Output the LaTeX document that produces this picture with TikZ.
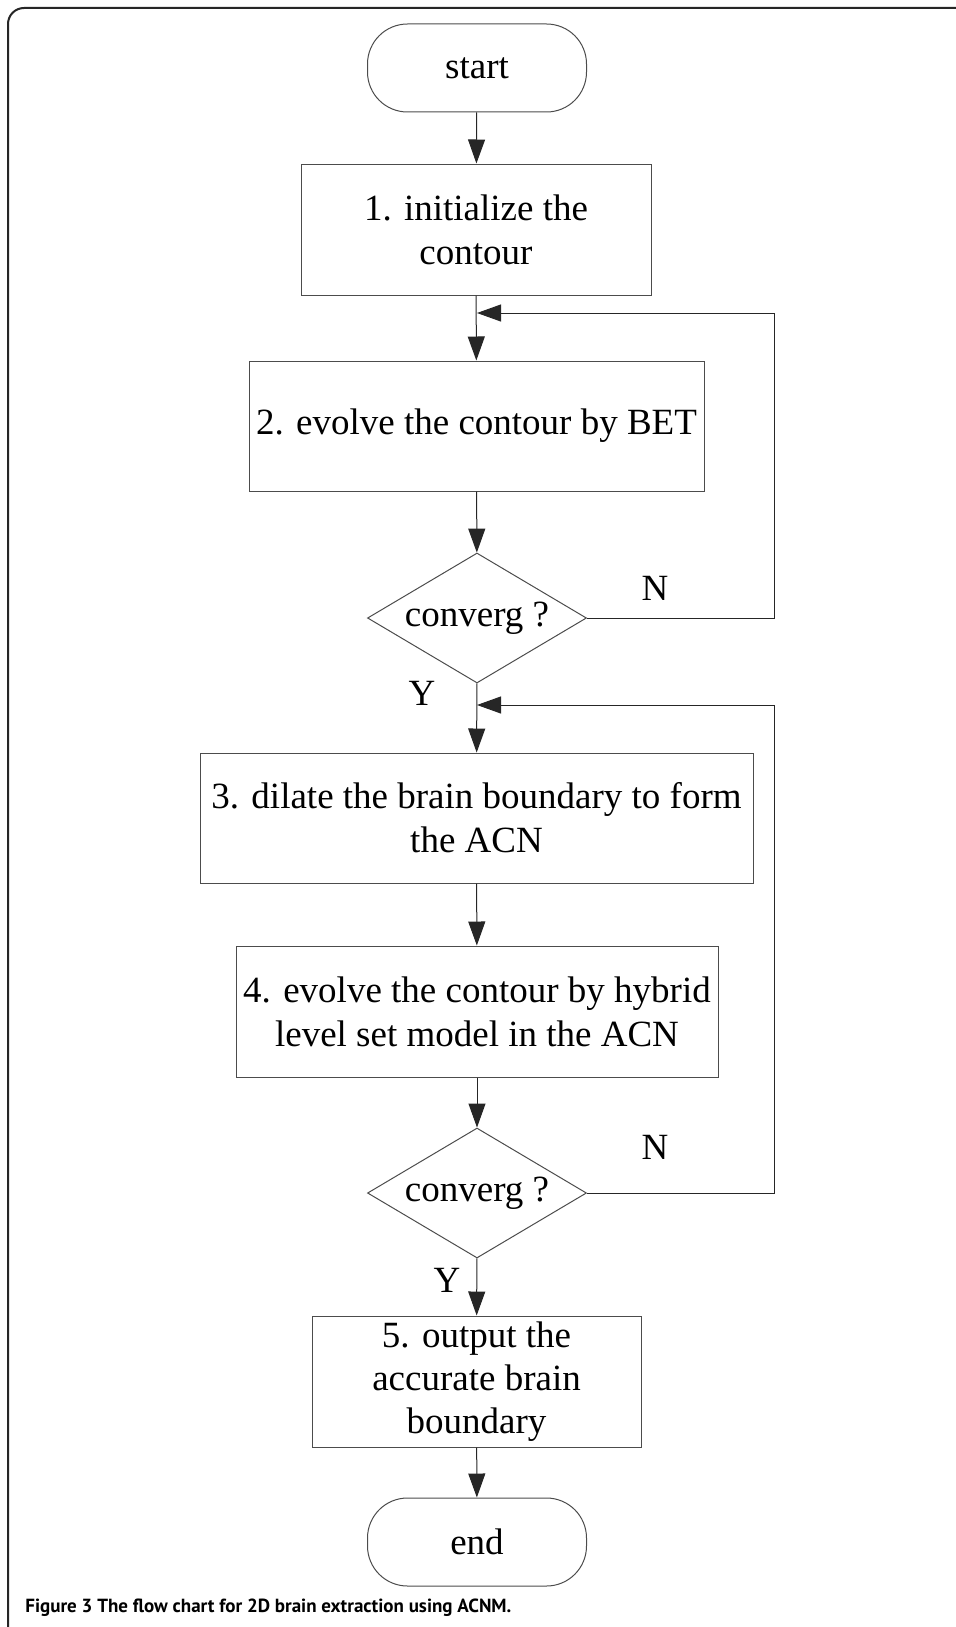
\documentclass[tikz,border=0pt]{standalone}
\usepackage{fontspec}
\setmainfont{Liberation Serif}
\newfontfamily\captionfont{PT Sans}
\usepackage{tikz}
\usetikzlibrary{arrows.meta}
\usetikzlibrary{shapes.geometric}

\begin{document}
\begin{tikzpicture}[x=0.5pt, y=-0.5pt,
  boxtext/.style={font=\fontsize{18.5}{22}\selectfont, align=center},
  stepbox/.style={boxtext, draw=black!70, line width=0.5pt, inner sep=0pt},
  terminal/.style={stepbox, rounded corners=20pt,
    minimum width=109.5pt, minimum height=44pt},
  decision/.style={diamond, boxtext, draw=black!70, line width=0.5pt,
    inner sep=0pt, aspect=1.68, minimum width=109.5pt, minimum height=65pt},
  flow/.style={-{Triangle[length=12pt, width=8.5pt]}, draw=black!85,
    line width=0.5pt},
  yesno/.style={font=\fontsize{18.5}{22}\selectfont}]
  \useasboundingbox (0,0) rectangle (956,1627);
  % page frame, open on the right and at the bottom
  \draw[black!85, line width=1pt, rounded corners=8pt]
    (8,1627) -- (8,8) -- (956,8);
  % ---------- the steps, top to bottom ----------
  \node[terminal] (start) at (477,68) {start};
  \node[stepbox, minimum width=175pt, minimum height=65.5pt] (init)
    at (476,229.5) {1. initialize the\\contour};
  \node[stepbox, minimum width=227.5pt, minimum height=65pt] (bet)
    at (476.5,426) {2. evolve the contour by BET};
  \node[decision] (conv1) at (477,618) {converg ?};
  \node[stepbox, minimum width=276.5pt, minimum height=65pt] (dilate)
    at (476.5,818) {3. dilate the brain boundary to form\\the ACN};
  \node[stepbox, minimum width=241pt, minimum height=65.5pt] (hybrid)
    at (477,1011.5) {4. evolve the contour by hybrid\\level set model in the ACN};
  \node[decision] (conv2) at (477,1193) {converg ?};
  \node[stepbox, minimum width=164.5pt, minimum height=65.5pt,
    font=\fontsize{18.5}{21.5}\selectfont] (output)
    at (476.5,1381.5) {5. output the\\accurate brain\\boundary};
  \node[terminal] (end) at (477,1542) {end};
  % ---------- loop points ----------
  \coordinate (join1) at (477,313);
  \coordinate (join2) at (477,705);
  \coordinate (back1) at (774,313);
  \coordinate (back2) at (774,705);
  % ---------- connectors ----------
  \draw[flow] (start) -- (init);
  \draw[flow] (init) -- (bet);
  \draw[flow] (bet) -- (conv1);
  \draw[flow] (conv1) -- (dilate);
  \draw[flow] (dilate) -- (hybrid);
  \draw[flow] (hybrid) -- (conv2);
  \draw[flow] (conv2) -- (output);
  \draw[flow] (output) -- (end);
  \draw[flow] (conv1.east) -| (back1) -- (join1);
  \draw[flow] (conv2.east) -| (back2) -- (join2);
  % ---------- branch labels ----------
  \node[yesno] (no1) at (655,588) {N};
  \node[yesno] (yes1) at (422,693) {Y};
  \node[yesno] (no2) at (655,1147) {N};
  \node[yesno] (yes2) at (447,1280) {Y};
  % caption
  \node[font=\captionfont\bfseries\fontsize{9.5}{11}\selectfont,
    anchor=base west, inner sep=0pt] (caption) at (25,1612)
    {Figure 3 The flow chart for 2D brain extraction using ACNM.};
\end{tikzpicture}
\end{document}
